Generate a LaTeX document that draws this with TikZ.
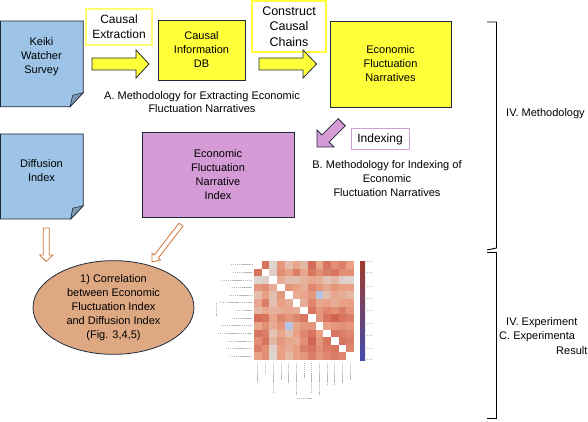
\documentclass[tikz,border=0pt]{standalone}
\usepackage{fontspec}
\setmainfont{Liberation Sans}
\usetikzlibrary{shapes.geometric}
\definecolor{ink}{HTML}{1F2A3A}
\definecolor{docblue}{HTML}{9DC3E6}
\definecolor{foldblue}{HTML}{7F9BB5}
\definecolor{yel}{HTML}{FFFF3A}
\definecolor{yelline}{HTML}{FFFF70}
\definecolor{purp}{HTML}{D49BD6}
\definecolor{tan}{HTML}{DEA883}
\definecolor{orng}{HTML}{D2773C}
\definecolor{hmgrey}{HTML}{DDDAD8}
\definecolor{hmsalmon}{HTML}{E9A084}
\definecolor{hmred}{HTML}{C64A3A}
\definecolor{hmblue}{HTML}{9DB5EE}
\tikzset{
  every node/.style={font=\fontsize{11}{14}\selectfont, align=center},
  txt/.style={inner sep=0},
  ybox/.style={draw=ink, line width=0.8pt, fill=yel, inner sep=0},
  lblbox/.style={draw=yelline, line width=1.2pt, fill=white, inner sep=0, font=\fontsize{12}{15}\selectfont},
  docshape/.style={draw=ink, line width=0.8pt, fill=docblue},
  fold/.style={draw=ink, line width=0.6pt, fill=foldblue},
  yarrow/.style={draw=ink, line width=0.8pt, fill=yel},
  parrow/.style={draw=ink, line width=0.8pt, fill=purp},
  oarrow/.style={draw=orng, line width=0.8pt, fill=white},
  hmmark/.style={draw=gray!55, line width=0.9pt, dash pattern=on 1.4pt off 0.5pt},
  brk/.style={draw=black, line width=0.9pt},
}
\begin{document}
\begin{tikzpicture}[x=1pt,y=-1pt]
\useasboundingbox (0,0) rectangle (588,422);

% --- documents ---
\draw[docshape] (0.5,21) -- (83.3,21) -- (83.3,92.7) -- (70,106.7) -- (0.5,106.7) -- cycle;
\draw[fold] (83.3,92.7) -- (72.7,95.3) -- (70,106.7) -- cycle;
\node[txt] (keiki) at (41.5,57) {Keiki\\Watcher\\Survey};

\draw[docshape] (0.5,134) -- (83.3,134) -- (83.3,205.7) -- (70.7,219) -- (0.5,219) -- cycle;
\draw[fold] (83.3,205.7) -- (72.7,208.3) -- (70.7,219) -- cycle;
\node[txt] (diff) at (41.5,170.5) {Diffusion\\Index};

% --- label boxes ---
\node[lblbox, minimum width=66, minimum height=36] (extr) at (119,27) {Causal\\Extraction};
\node[lblbox, draw=yel, line width=1.6pt, minimum width=74, minimum height=51, font=\fontsize{12.5}{15.5}\selectfont] (cons) at (289,26.5) {Construct\\Causal\\Chains};
\node[lblbox, draw=purp, line width=1pt, minimum width=58, minimum height=21] (idx) at (380,139.5) {Indexing};

% --- main boxes ---
\node[ybox, minimum width=87, minimum height=60] (cidb) at (201.5,50) {Causal\\Information\\DB};
\node[ybox, minimum width=121, minimum height=86] (efn) at (390.5,64) {Economic\\Fluctuation\\Narratives};
\node[draw=ink, line width=0.8pt, fill=purp, inner sep=0, minimum width=152, minimum height=85] (efni) at (218,174.5) {Economic\\Fluctuation\\Narrative\\Index};
\node[ellipse, draw=ink, line width=0.8pt, fill=tan, inner sep=0, minimum width=161, minimum height=79] (corr) at (113.5,307.5) {1) Correlation\\between Economic\\Fluctuation Index\\and Diffusion Index\\(Fig. 3,4,5)};

% --- captions ---
\node[txt, font=\fontsize{11}{13}\selectfont] (capA) at (202,102.5) {A. Methodology for Extracting Economic\\Fluctuation Narratives};
\node[txt] (capB) at (387,179) {B. Methodology for Indexing of\\Economic\\Fluctuation Narratives};
\node[txt, anchor=west] (meth) at (506,114) {IV. Methodology};
\node[txt, anchor=west] (exp1) at (506,323) {IV. Experiment};
\node[txt, anchor=west] (exp2) at (499,337) {C. Experimenta};
\node[txt, anchor=west] (exp3) at (556,350.5) {Result};

% --- block arrows ---
\draw[yarrow] (92,58) -- (136,58) -- (136,50) -- (149,64) -- (136,78) -- (136,70) -- (92,70) -- cycle;
\draw[yarrow] (259,58) -- (303,58) -- (303,50) -- (316.5,64) -- (303,78) -- (303,70) -- (259,70) -- cycle;
\draw[parrow] (317,147) -- (334,147) -- (329.04,142.04) -- (345.29,125.79) -- (338.21,118.71) -- (321.96,134.96) -- (317,130) -- cycle;
\draw[oarrow] (43.3,228) -- (49.3,228) -- (49.3,255) -- (53,255) -- (46.3,261.5) -- (39.6,255) -- (43.3,255) -- cycle;
\draw[oarrow] (182.98,226.24) -- (158.28,258.0) -- (160.65,259.85) -- (152,262) -- (151.96,253.1) -- (154.33,254.94) -- (179.03,223.17) -- cycle;

% --- brackets ---
\draw[brk] (487,22) -- (496.5,22) -- (496.5,248) -- (487,250);
\draw[brk] (487,252) -- (496.5,252) -- (496.5,418) -- (487,418);

% --- heatmap ---
\foreach \row [count=\i] in {
 {999,75,5,55,25,45,30,80,45,75,60,70,50},
 {75,999,10,60,50,70,45,75,60,70,75,60,60},
 {5,10,999,40,25,25,35,45,40,20,30,10,5},
 {55,60,40,999,55,50,40,65,55,45,55,50,50},
 {25,50,25,55,999,40,45,55,-15,25,45,40,30},
 {45,70,25,50,40,999,40,65,45,50,40,50,50},
 {30,45,35,40,45,40,999,75,55,65,60,70,55},
 {80,75,45,65,55,65,75,999,55,75,85,75,70},
 {45,60,40,55,-15,45,55,55,999,50,55,60,55},
 {75,70,20,45,25,50,65,75,50,999,75,70,65},
 {60,75,30,55,45,40,60,85,55,75,999,75,70},
 {70,60,10,50,40,50,70,75,60,70,75,999,65},
 {50,60,5,50,30,50,55,70,55,65,70,65,999}}{
  \foreach \v [count=\j] in \row {
    \ifnum\v=999\relax\else
      \ifnum\v<0
        \pgfmathtruncatemacro\w{-4*\v}
        \fill[hmblue!\w!hmgrey] ({254+(\j-1)*7.7},{261+(\i-1)*7.62}) rectangle ++(7.7,7.62);
      \else\ifnum\v<50
        \pgfmathtruncatemacro\w{2*\v}
        \fill[hmsalmon!\w!hmgrey] ({254+(\j-1)*7.7},{261+(\i-1)*7.62}) rectangle ++(7.7,7.62);
      \else
        \pgfmathtruncatemacro\w{2*(\v-50)}
        \fill[hmred!\w!hmsalmon] ({254+(\j-1)*7.7},{261+(\i-1)*7.62}) rectangle ++(7.7,7.62);
      \fi\fi
    \fi
  }
}
% colour bar
\shade[top color=hmred!80!black, middle color=hmgrey, bottom color=hmblue!60!blue!70!black] (360,261) rectangle (365,360);
\foreach \yy in {261,272,286,298,310,323,335,348,359}
  \draw[hmmark] (367,\yy) -- (371,\yy);
% row labels (illegible)
\foreach \xl [count=\i] in {231,233,222,232,229,219,235,232,221,218,227,226,230}
  \draw[hmmark] (\xl,{261+(\i-0.5)*7.62}) -- (252,{261+(\i-0.5)*7.62});
% column labels (illegible)
\foreach \yl [count=\j] in {382,373,392,380,383,395,378,392,395,385,385,383,380}
  \draw[hmmark] ({254+(\j-0.5)*7.7},363) -- ({254+(\j-0.5)*7.7},\yl);
\draw[hmmark] (216,303) -- (216,316);
\draw[hmmark] (297,398) -- (312,398);
\end{tikzpicture}
\end{document}
